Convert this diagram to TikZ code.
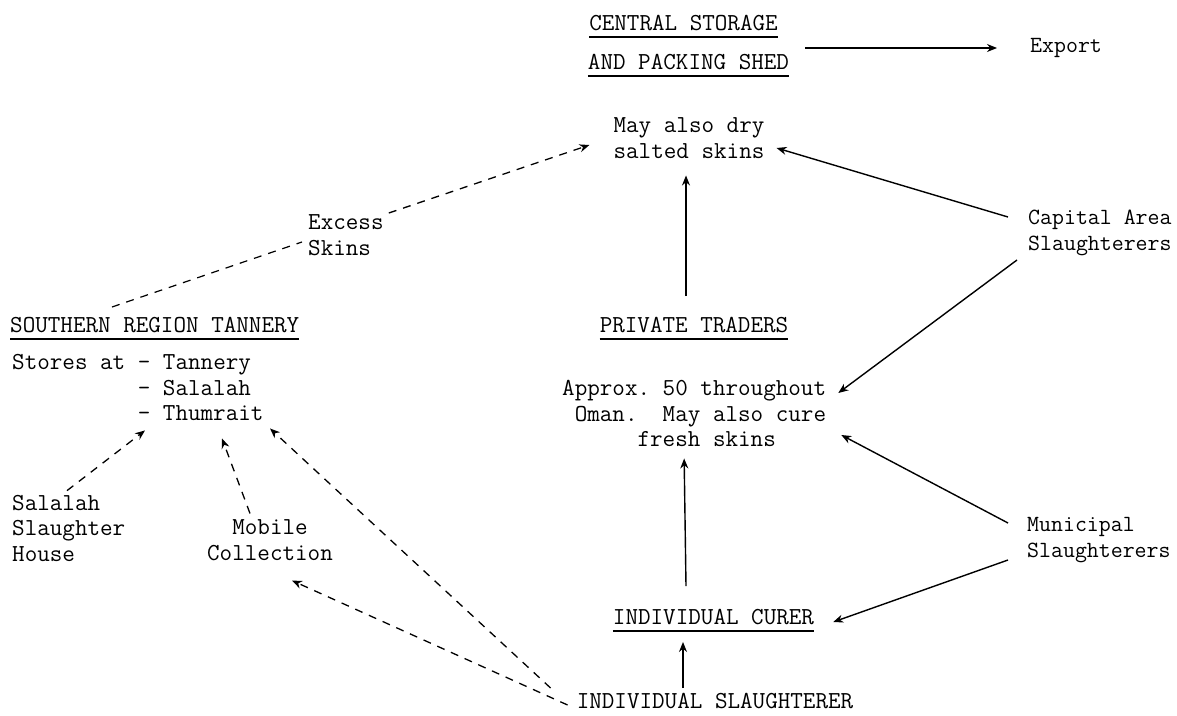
\documentclass[tikz,border=0pt]{standalone}
\usepackage{fontspec}
\setmonofont{Latin Modern Mono}
\usepackage{tikz}
\usetikzlibrary{arrows.meta}
\frenchspacing

\tikzset{
  lbl/.style={inner sep=0pt},
  side/.style={inner sep=0pt,font=\ttfamily\fontsize{23.2}{25.5}\selectfont},
  arr/.style={line width=1.4pt,-{Stealth[length=10pt,width=8pt]}},
  darr/.style={line width=1.3pt,dash pattern=on 8pt off 7pt,-{Stealth[length=10pt,width=8pt]}},
  uline/.style={line width=1.2pt}
}

\begin{document}
\begin{tikzpicture}[x=1pt,y=-1pt,font=\ttfamily\fontsize{24.4}{25.5}\selectfont]
  \useasboundingbox (0,0) rectangle (1177,715);
  % centre and right column
  \node[lbl] (store1) at (683.5,23) {CENTRAL STORAGE};
  \node[lbl] (store2) at (688.5,62) {AND PACKING SHED};
  \node[side,anchor=west] (export) at (1030,48) {Export};
  \node[lbl,align=left] (dry) at (689,138) {May also dry\\salted skins};
  \node[side,align=left,anchor=west] (capital) at (1028,233) {Capital Area\\Slaughterers};
  \node[lbl] (traders) at (694,325) {PRIVATE TRADERS};
  \node[lbl,align=left,anchor=west] (approx) at (562,414)
    {Approx. 50 throughout\\\phantom{0}Oman.\ \ May also cure\\\phantom{000000}fresh skins};
  \node[side,align=left,anchor=west] (municipal) at (1027,540) {Municipal\\Slaughterers};
  \node[lbl] (curer) at (713.5,617) {INDIVIDUAL CURER};
  \node[lbl] (slaughterer) at (715,701) {INDIVIDUAL SLAUGHTERER};
  % left column
  \node[lbl,anchor=west] (southern) at (10,325) {SOUTHERN REGION TANNERY};
  \node[lbl,align=left,anchor=west] (stores) at (12,388)
    {Stores at - Tannery\\\phantom{0000000000}- Salalah\\\phantom{0000000000}- Thumrait};
  \node[lbl,align=left,anchor=west] (excess) at (308,235) {Excess\\Skins};
  \node[lbl,align=left,anchor=west] (ssh) at (12,528) {Salalah\\Slaughter\\House};
  \node[lbl,align=center] (mobile) at (270,540) {Mobile\\Collection};

  \foreach \n in {store1,store2,southern,traders,curer}
    \draw[uline] ([yshift=-6pt]\n.south west) -- ([yshift=-6pt]\n.south east);

  % solid flows
  \draw[arr,shorten <=16pt,shorten >=33pt] (store2.east |- export.west) -- (export.west);
  \draw[arr] ([shift={(-20,-16)}]capital.west) -- ([shift={(12,10)}]dry.east);
  \draw[arr] ([shift={(-8,-21)}]traders.north) -- ([shift={(-3,17)}]dry.south);
  \draw[arr] ([shift={(-11,27)}]capital.west) -- ([shift={(12,-21)}]approx.east);
  \draw[arr] ([shift={(-19,-17)}]municipal.west) -- ([shift={(15,21)}]approx.east);
  \draw[arr] ([shift={(-19,20)}]municipal.west) -- ([shift={(19,5)}]curer.east);
  \draw[arr] ([shift={(-27.5,-23)}]curer.north) -- ([shift={(-10,11)}]approx.south);
  \draw[arr] ([shift={(-32,-5)}]slaughterer.north) -- ([shift={(-30.5,17)}]curer.south);

  % dashed flows
  \draw[uline,dash pattern=on 8pt off 7pt] ([shift={(102,-18)}]southern.west) -- ([shift={(-6,7)}]excess.west);
  \draw[darr] ([shift={(5,-22)}]excess.east) -- ([shift={(-24,7)}]dry.west);
  \draw[darr] ([shift={(55,-4)}]ssh.north west) -- ([shift={(133,9)}]stores.south west);
  \draw[darr] ([shift={(-20,-6)}]mobile.north) -- ([shift={(210,17)}]stores.south west);
  \draw[darr] ([shift={(-26,-13)}]slaughterer.west) -- ([shift={(258,7)}]stores.south west);
  \draw[darr] ([shift={(-9,4)}]slaughterer.west) -- ([shift={(-41,20)}]mobile.south east);
\end{tikzpicture}
\end{document}
